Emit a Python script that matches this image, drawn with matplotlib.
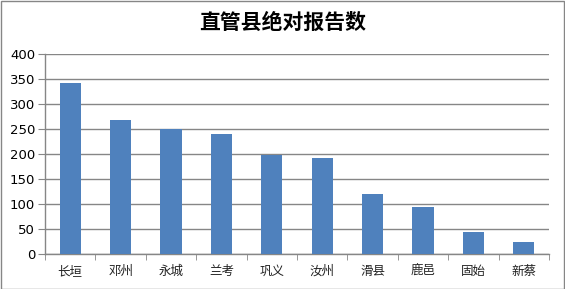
import matplotlib.pyplot as plt
import numpy as np
from matplotlib.patches import Rectangle

plt.rcParams['font.family'] = ['Noto Sans CJK SC', 'DejaVu Sans']

counties = ['长垣', '邓州', '永城', '兰考', '巩义', '汝州', '滑县', '鹿邑', '固始', '新蔡']
reports = [343, 269, 250, 241, 199, 193, 121, 95, 45, 25]
y_ticks = [0, 50, 100, 150, 200, 250, 300, 350, 400]

grid_color = '#868686'
bar_color = '#4f81bd'

fig = plt.figure(figsize=(5.65, 2.89), dpi=100)
ax = fig.add_axes([45 / 565, 35 / 289, 504 / 565, 200 / 289])

x = np.arange(len(counties))
ax.bar(x, reports, width=0.42, color=bar_color, zorder=3)

ax.set_xlim(-0.5, len(counties) - 0.5)
ax.set_ylim(0, 400)
ax.set_yticks(y_ticks)
ax.set_yticklabels([str(v) for v in y_ticks], family='DejaVu Sans', fontsize=9.5)
ax.yaxis.grid(True, color=grid_color, linewidth=1, zorder=0)

# category labels at centers, tick marks at boundaries
ax.set_xticks(x)
ax.set_xticklabels(counties, fontsize=9, color='#222222')
ax.tick_params(axis='x', length=0, pad=8)
ax.set_xticks(np.arange(len(counties) + 1) - 0.5, minor=True)
ax.tick_params(axis='x', which='minor', length=4, color=grid_color, direction='out')
ax.tick_params(axis='y', length=5, color=grid_color, direction='out', pad=2)

for side in ['top', 'right']:
    ax.spines[side].set_visible(False)
for side in ['left', 'bottom']:
    ax.spines[side].set_color(grid_color)
    ax.spines[side].set_linewidth(1)

fig.text(0.5, 1 - 22 / 289, '直管县绝对报告数', ha='center', va='center',
         fontsize=15, fontweight='bold')

fig.patches.append(Rectangle((0.5 / 565, 0.5 / 289), 563.5 / 565, 287.5 / 289,
                             transform=fig.transFigure, fill=False,
                             edgecolor=grid_color, linewidth=1))

fig.savefig('out.png', dpi=100)
